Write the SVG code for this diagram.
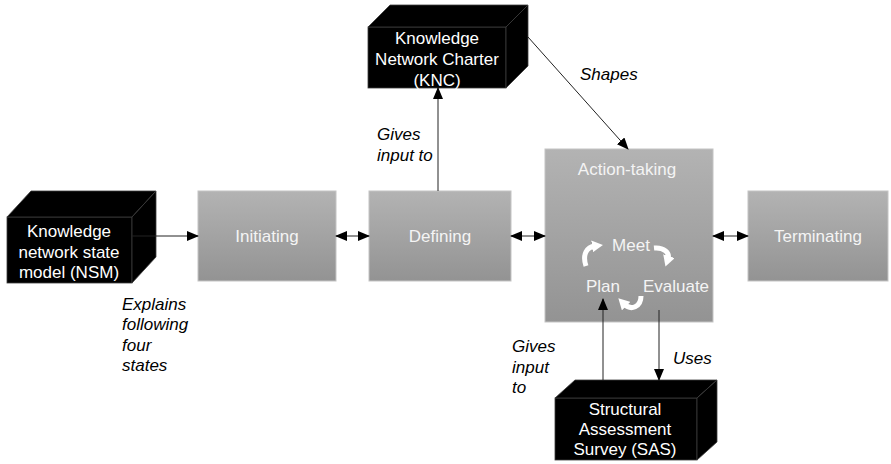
<svg xmlns="http://www.w3.org/2000/svg" width="891" height="464" viewBox="0 0 891 464">
<style>
.cube{fill:#000;stroke:#3c3c3c;stroke-width:0.8}
.cubetxt{font-family:"Liberation Sans",Arial,sans-serif;font-size:17px;fill:#fff;text-anchor:middle}
.box{fill:url(#g);stroke:#c4c4c4;stroke-width:1}
.boxtxt{font-family:"Liberation Sans",Arial,sans-serif;font-size:17px;fill:#f4f4f4;text-anchor:middle}
.lbl{font-family:"Liberation Sans",Arial,sans-serif;font-size:17px;font-style:italic;fill:#000}
.con{stroke:#222;stroke-width:1;fill:none}
.cyc{stroke:#fff;stroke-width:5;fill:none;stroke-linecap:butt}
</style>
<defs>
<linearGradient id="g" x1="0" y1="0" x2="0" y2="1">
<stop offset="0" stop-color="#b3b3b3"/>
<stop offset="1" stop-color="#939393"/>
</linearGradient>
<marker id="ah" markerUnits="userSpaceOnUse" markerWidth="12" markerHeight="10" refX="11" refY="5" orient="auto-start-reverse" viewBox="0 0 12 10">
<path d="M0,0 L12,5 L0,10 z" fill="#000"/>
</marker>
<marker id="wh" markerUnits="userSpaceOnUse" markerWidth="11" markerHeight="12" refX="3" refY="6" orient="auto" viewBox="0 0 11 12">
<path d="M0,0 L11,6 L0,12 z" fill="#fff"/>
</marker>
</defs>

<g id="nsm">
<rect class="cube" x="7" y="217" width="125" height="66"/>
<polygon class="cube" points="7,217 31,191 156,191 132,217"/>
<polygon class="cube" points="132,217 156,191 156,257 132,283"/>
<text class="cubetxt" x="69" y="237">Knowledge</text>
<text class="cubetxt" x="69" y="258">network state</text>
<text class="cubetxt" x="69" y="278">model (NSM)</text>
</g>

<g id="knc">
<rect class="cube" x="368" y="27" width="138" height="61"/>
<polygon class="cube" points="368,27 390,5 528,5 506,27"/>
<polygon class="cube" points="506,27 528,5 528,66 506,88"/>
<text class="cubetxt" x="437" y="44">Knowledge</text>
<text class="cubetxt" x="437" y="65">Network Charter</text>
<text class="cubetxt" x="437" y="86">(KNC)</text>
</g>

<g id="sas">
<rect class="cube" x="555" y="398" width="142" height="62"/>
<polygon class="cube" points="555,398 575,380 717,380 697,398"/>
<polygon class="cube" points="697,398 717,380 717,442 697,460"/>
<text class="cubetxt" x="625" y="415">Structural</text>
<text class="cubetxt" x="625" y="435">Assessment</text>
<text class="cubetxt" x="625" y="455">Survey (SAS)</text>
</g>

<g id="initiating">
<rect class="box" x="198" y="191" width="138" height="90"/>
<text class="boxtxt" x="267" y="242">Initiating</text>
</g>

<g id="defining">
<rect class="box" x="369" y="191" width="142" height="90"/>
<text class="boxtxt" x="440" y="242">Defining</text>
</g>

<g id="action">
<rect class="box" x="545" y="149" width="168" height="173"/>
<text class="boxtxt" x="627" y="175">Action-taking</text>
<text class="boxtxt" x="631" y="251">Meet</text>
<text class="boxtxt" x="603" y="292">Plan</text>
<text class="boxtxt" x="676" y="292">Evaluate</text>
<path class="cyc" d="M586,266 C582,254 587,247 595,246" marker-end="url(#wh)"/>
<path class="cyc" d="M654,248 C664,247 670,253 668,259" marker-end="url(#wh)"/>
<path class="cyc" d="M641,296 C641,307 631,311 624,304" marker-end="url(#wh)"/>
</g>

<g id="terminating">
<rect class="box" x="748" y="191" width="140" height="90"/>
<text class="boxtxt" x="818" y="242">Terminating</text>
</g>

<g id="connectors">
<line class="con" x1="132" y1="236" x2="198" y2="236" marker-end="url(#ah)"/>
<line class="con" x1="336" y1="236" x2="369" y2="236" marker-start="url(#ah)" marker-end="url(#ah)"/>
<line class="con" x1="511" y1="236" x2="545" y2="236" marker-start="url(#ah)" marker-end="url(#ah)"/>
<line class="con" x1="713" y1="236" x2="748" y2="236" marker-start="url(#ah)" marker-end="url(#ah)"/>
<line class="con" x1="438" y1="191" x2="438" y2="88" marker-end="url(#ah)"/>
<line class="con" x1="528" y1="37" x2="628" y2="149" marker-end="url(#ah)"/>
<line class="con" x1="603" y1="380" x2="603" y2="299" marker-end="url(#ah)"/>
<line class="con" x1="659" y1="310" x2="659" y2="380" marker-end="url(#ah)"/>
</g>

<g id="labels">
<text class="lbl" x="377" y="140">Gives</text>
<text class="lbl" x="377" y="161">input to</text>
<text class="lbl" x="580" y="80">Shapes</text>
<text class="lbl" x="122" y="310">Explains</text>
<text class="lbl" x="122" y="330">following</text>
<text class="lbl" x="122" y="351">four</text>
<text class="lbl" x="122" y="371">states</text>
<text class="lbl" x="512" y="352">Gives</text>
<text class="lbl" x="512" y="373">input</text>
<text class="lbl" x="512" y="393">to</text>
<text class="lbl" x="673" y="364">Uses</text>
</g>
</svg>
